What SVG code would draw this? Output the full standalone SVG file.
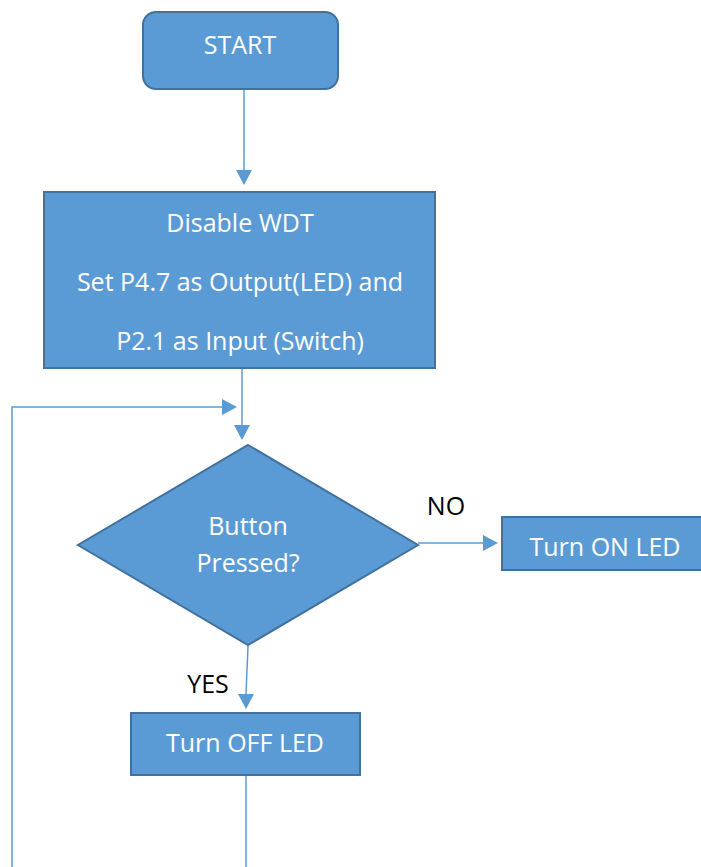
<svg xmlns="http://www.w3.org/2000/svg" width="701" height="867" viewBox="0 0 701 867">
<style>
.node{fill:#5B9BD5;stroke:#41719C;stroke-width:2}
.lbl{font-family:"Open Sans","Liberation Sans",sans-serif;font-size:25px;fill:#ffffff;text-anchor:middle}
.edge{font-family:"Open Sans","Liberation Sans",sans-serif;font-size:25px;fill:#000000;text-anchor:middle}
.conn{fill:none;stroke:#5B9BD5;stroke-width:1.5}
.head{fill:#5B9BD5}
</style>
<rect width="701" height="867" fill="#ffffff"/>
<g id="connectors">
<line class="conn" x1="244" y1="89" x2="244" y2="170"/>
<path class="head" d="M236,170 L252,170 L244,185 Z"/>
<line class="conn" x1="242" y1="369" x2="242" y2="425"/>
<path class="head" d="M234,425 L250,425 L242,440 Z"/>
<polyline class="conn" points="12,867 12,407 222,407"/>
<path class="head" d="M222,399 L222,415 L237,407 Z"/>
<line class="conn" x1="418" y1="543" x2="483" y2="543"/>
<path class="head" d="M483,535 L483,551 L498,543 Z"/>
<line class="conn" x1="248" y1="646" x2="246" y2="694"/>
<path class="head" d="M238,694 L254,694 L246,709 Z"/>
<line class="conn" x1="246" y1="775" x2="246" y2="867"/>
<text class="edge" x="446" y="515">NO</text>
<text class="edge" x="208" y="693">YES</text>
</g>
<g id="start">
<rect class="node" x="143" y="12" width="195" height="77" rx="13"/>
<text class="lbl" x="240" y="54">START</text>
</g>
<g id="init">
<rect class="node" x="44" y="192" width="391" height="176"/>
<text class="lbl" x="240" y="232">Disable WDT</text>
<text class="lbl" x="240" y="291">Set P4.7 as Output(LED) and</text>
<text class="lbl" x="240" y="350">P2.1 as Input (Switch)</text>
</g>
<g id="decision">
<polygon class="node" points="248,445 418,545 248,645 78,545"/>
<text class="lbl" x="248" y="535">Button</text>
<text class="lbl" x="248" y="572">Pressed?</text>
</g>
<g id="on">
<rect class="node" x="502" y="517" width="210" height="53"/>
<text class="lbl" x="605" y="556">Turn ON LED</text>
</g>
<g id="off">
<rect class="node" x="131" y="713" width="229" height="62"/>
<text class="lbl" x="245" y="752">Turn OFF LED</text>
</g>
</svg>
